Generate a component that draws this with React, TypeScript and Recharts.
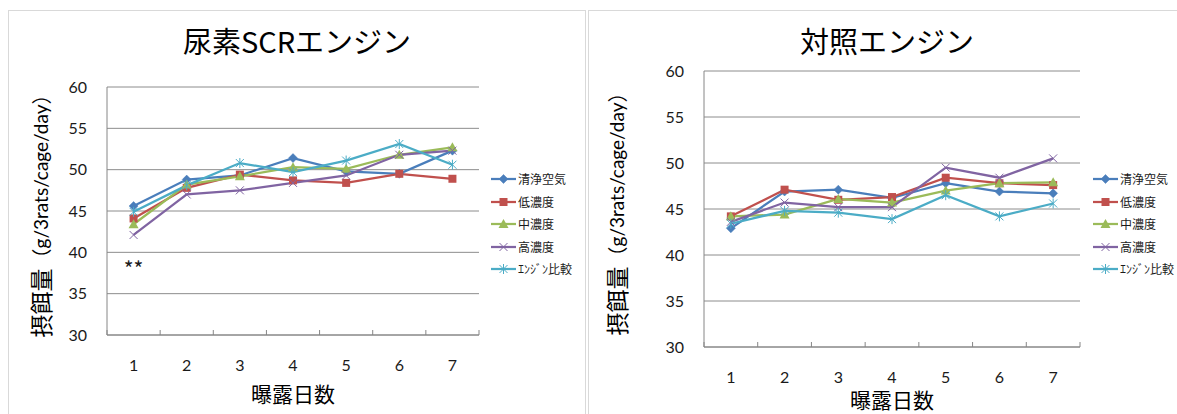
import React from 'react';
import {
  LineChart,
  Line,
  XAxis,
  YAxis,
  CartesianGrid,
  Legend,
  Label,
  ReferenceDot,
} from 'recharts';

// Exposure days (x axis categories)
const days = [1, 2, 3, 4, 5, 6, 7];
// Feed intake axis ticks
const yTicks = [30, 35, 40, 45, 50, 55, 60];

const seriesNames = ['清浄空気', '低濃度', '中濃度', '高濃度', 'ｴﾝｼﾞﾝ比較'];
const seriesColors = ['#4a7ebb', '#c0504d', '#9bbb59', '#8064a2', '#4bacc6'];
const seriesMarkers = ['diamond', 'square', 'triangle', 'cross', 'star'];

// Urea SCR engine exhaust
const scrClean = [45.6, 48.8, 49.3, 51.4, 49.8, 49.5, 52.3];
const scrLow = [44.1, 47.8, 49.4, 48.7, 48.4, 49.5, 48.9];
const scrMid = [43.4, 48.2, 49.2, 50.3, 50.1, 51.8, 52.7];
const scrHigh = [42.1, 47.0, 47.5, 48.4, 49.3, 51.8, 52.3];
const scrEngine = [44.9, 48.1, 50.8, 49.7, 51.1, 53.1, 50.6];

// Reference engine exhaust
const ctrlClean = [42.9, 46.9, 47.1, 46.2, 47.8, 46.9, 46.7];
const ctrlLow = [44.2, 47.1, 46.0, 46.3, 48.4, 47.8, 47.6];
const ctrlMid = [44.2, 44.4, 46.1, 45.7, 47.0, 47.8, 47.9];
const ctrlHigh = [43.6, 45.7, 45.2, 45.2, 49.5, 48.4, 50.5];
const ctrlEngine = [43.4, 44.8, 44.6, 43.9, 46.5, 44.2, 45.6];

// Significance mark under day 1 in the SCR panel
const scrSignificance = { day: 1, value: 37.9, text: '**' };

const seriesKeys = ['clean', 'low', 'mid', 'high', 'engine'];

function buildRows(cols: number[][]) {
  return days.map((d, i) => {
    const row: Record<string, number> = { day: d };
    seriesKeys.forEach((k, j) => {
      row[k] = cols[j][i];
    });
    return row;
  });
}

const scrRows = buildRows([scrClean, scrLow, scrMid, scrHigh, scrEngine]);
const ctrlRows = buildRows([ctrlClean, ctrlLow, ctrlMid, ctrlHigh, ctrlEngine]);

// category boundaries get the small inside tick marks, integer days get labels
const xTicks = [...days.map((d) => d - 0.5), days[days.length - 1] + 0.5, ...days].sort(
  (a, b) => a - b
);

const numFont = 'Lato, "Noto Sans", sans-serif';
const jpFont = '"Noto Sans CJK JP", "Noto Sans", sans-serif';

function Marker({ shape, cx, cy, color }: { shape: string; cx: number; cy: number; color: string }) {
  if (cx == null || cy == null) return null;
  switch (shape) {
    case 'diamond':
      return (
        <polygon
          points={`${cx},${cy - 4.5} ${cx + 4.5},${cy} ${cx},${cy + 4.5} ${cx - 4.5},${cy}`}
          fill={color}
          stroke={color}
          strokeWidth={0.5}
        />
      );
    case 'square':
      return <rect x={cx - 4} y={cy - 4} width={8} height={8} fill={color} />;
    case 'triangle':
      return (
        <polygon
          points={`${cx},${cy - 5} ${cx + 5},${cy + 4} ${cx - 5},${cy + 4}`}
          fill={color}
        />
      );
    case 'cross':
      return (
        <g stroke={color} strokeWidth={1}>
          <line x1={cx - 4} y1={cy - 4} x2={cx + 4} y2={cy + 4} />
          <line x1={cx - 4} y1={cy + 4} x2={cx + 4} y2={cy - 4} />
        </g>
      );
    case 'star':
    default:
      return (
        <g stroke={color} strokeWidth={1}>
          <line x1={cx - 4} y1={cy - 4} x2={cx + 4} y2={cy + 4} />
          <line x1={cx - 4} y1={cy + 4} x2={cx + 4} y2={cy - 4} />
          <line x1={cx} y1={cy - 5} x2={cx} y2={cy + 5} />
        </g>
      );
  }
}

function XTick(props: any) {
  const { x, y, payload, labelGap } = props;
  const v = payload.value;
  if (Number.isInteger(v)) {
    return (
      <text
        x={x}
        y={y + labelGap}
        textAnchor="middle"
        dominantBaseline="central"
        fontSize={16}
        fontFamily={numFont}
        fill="#1a1a1a"
      >
        {v}
      </text>
    );
  }
  return <line x1={x} y1={y} x2={x} y2={y - 5} stroke="#868686" strokeWidth={1} />;
}

function LegendBox() {
  return (
    <div>
      {seriesNames.map((name, i) => (
        <div key={name} style={{ display: 'flex', alignItems: 'center', height: 22.5 }}>
          <svg width={27} height={12} style={{ display: 'block' }}>
            <line x1={0} y1={6} x2={25} y2={6} stroke={seriesColors[i]} strokeWidth={2.25} />
            <Marker shape={seriesMarkers[i]} cx={12.5} cy={6} color={seriesColors[i]} />
          </svg>
          <span
            style={{
              fontFamily: jpFont,
              fontSize: 12,
              color: '#1a1a1a',
              whiteSpace: 'nowrap',
              lineHeight: '12px',
            }}
          >
            {name}
          </span>
        </div>
      ))}
    </div>
  );
}

type PanelProps = {
  rows: Record<string, number>[];
  title: string;
  left: number;
  width: number;
  plotLeft: number;
  plotTop: number;
  plotRight: number;
  plotBottom: number;
  titleCenter: number;
  yLabelX: number;
  yLabelShift: number;
  xTickGap: number;
  xLabelGap: number;
  legendLeft: number;
  legendTop: number;
  note?: { day: number; value: number; text: string };
};

function Panel(p: PanelProps) {
  const chartW = p.width - 2;
  const chartH = 403;
  return (
    <div
      style={{
        position: 'absolute',
        left: p.left,
        top: 10,
        width: chartW,
        height: chartH + 10,
        border: '1px solid #d9d9d9',
        background: '#fff',
      }}
    >
      <div
        style={{
          position: 'absolute',
          left: p.titleCenter - 200,
          width: 400,
          top: 10,
          textAlign: 'center',
          fontFamily: jpFont,
          fontSize: 29,
          lineHeight: '38px',
          color: '#000',
        }}
      >
        {p.title}
      </div>
      <LineChart
        width={chartW}
        height={chartH}
        data={p.rows}
        margin={{ top: p.plotTop, right: chartW - p.plotRight, bottom: 0, left: 0 }}
      >
        <CartesianGrid vertical={false} stroke="#8c8c8c" strokeWidth={1} />
        <XAxis
          dataKey="day"
          type="number"
          domain={[0.5, 7.5]}
          ticks={xTicks}
          interval={0}
          allowDecimals
          height={chartH - p.plotBottom}
          tickSize={0}
          tickMargin={0}
          tickLine={false}
          axisLine={{ stroke: '#868686' }}
          tick={<XTick labelGap={p.xTickGap} />}
        >
          <Label
            content={(lp: any) => {
              const vb = lp.viewBox;
              return (
                <text
                  x={vb.x + vb.width / 2}
                  y={vb.y + p.xLabelGap}
                  textAnchor="middle"
                  dominantBaseline="central"
                  fontFamily={jpFont}
                  fontSize={21}
                  fill="#000"
                >
                  曝露日数
                </text>
              );
            }}
          />
        </XAxis>
        <YAxis
          type="number"
          domain={[30, 60]}
          ticks={yTicks}
          interval={0}
          width={p.plotLeft}
          tickSize={0}
          tickMargin={20}
          tickLine={false}
          axisLine={{ stroke: '#868686' }}
          tick={{ fontSize: 16, fontFamily: numFont, fill: '#1a1a1a' }}
        >
          <Label
            content={(lp: any) => {
              const vb = lp.viewBox;
              const cy = vb.y + vb.height / 2 + p.yLabelShift;
              return (
                <text
                  x={p.yLabelX}
                  y={cy}
                  transform={`rotate(-90 ${p.yLabelX} ${cy})`}
                  textAnchor="middle"
                  dominantBaseline="central"
                  fill="#000"
                >
                  <tspan fontFamily={jpFont} fontSize={23}>
                    摂餌量
                  </tspan>
                  <tspan fontFamily={jpFont} fontSize={20}>
                    （
                  </tspan>
                  <tspan fontFamily={numFont} fontSize={19}>
                    g/3rats/cage/day
                  </tspan>
                  <tspan fontFamily={jpFont} fontSize={20}>
                    ）
                  </tspan>
                </text>
              );
            }}
          />
        </YAxis>
        {seriesKeys.map((k, i) => (
          <Line
            key={k}
            dataKey={k}
            name={seriesNames[i]}
            type="linear"
            stroke={seriesColors[i]}
            strokeWidth={2.25}
            isAnimationActive={false}
            activeDot={false}
            dot={(dp: any) => (
              <Marker
                key={`${k}-${dp.index}`}
                shape={seriesMarkers[i]}
                cx={dp.cx}
                cy={dp.cy}
                color={seriesColors[i]}
              />
            )}
          />
        ))}
        {p.note && (
          <ReferenceDot
            x={p.note.day}
            y={p.note.value}
            r={0}
            fill="none"
            stroke="none"
            label={{
              value: p.note.text,
              position: 'center',
              fontSize: 21,
              fontFamily: jpFont,
              fill: '#1a1a1a',
            }}
          />
        )}
        <Legend
          layout="vertical"
          align="center"
          verticalAlign="middle"
          content={() => <LegendBox />}
          wrapperStyle={{ left: p.legendLeft, top: p.legendTop, width: 'auto' }}
        />
      </LineChart>
    </div>
  );
}

export default function App() {
  return (
    <div
      style={{
        position: 'absolute',
        left: 0,
        top: 0,
        width: 1177,
        height: 414,
        overflow: 'hidden',
        background: '#fff',
      }}
    >
      <Panel
        rows={scrRows}
        title="尿素SCRエンジン"
        left={8}
        width={578}
        plotLeft={98}
        plotTop={76}
        plotRight={470}
        plotBottom={324}
        titleCenter={288}
        yLabelX={31}
        yLabelShift={0}
        xTickGap={29}
        xLabelGap={58}
        legendLeft={482}
        legendTop={157}
        note={scrSignificance}
      />
      <Panel
        rows={ctrlRows}
        title="対照エンジン"
        left={588}
        width={600}
        plotLeft={115}
        plotTop={60}
        plotRight={491}
        plotBottom={336}
        titleCenter={298}
        yLabelX={27}
        yLabelShift={0}
        xTickGap={29}
        xLabelGap={52}
        legendLeft={504}
        legendTop={157}
      />
    </div>
  );
}
